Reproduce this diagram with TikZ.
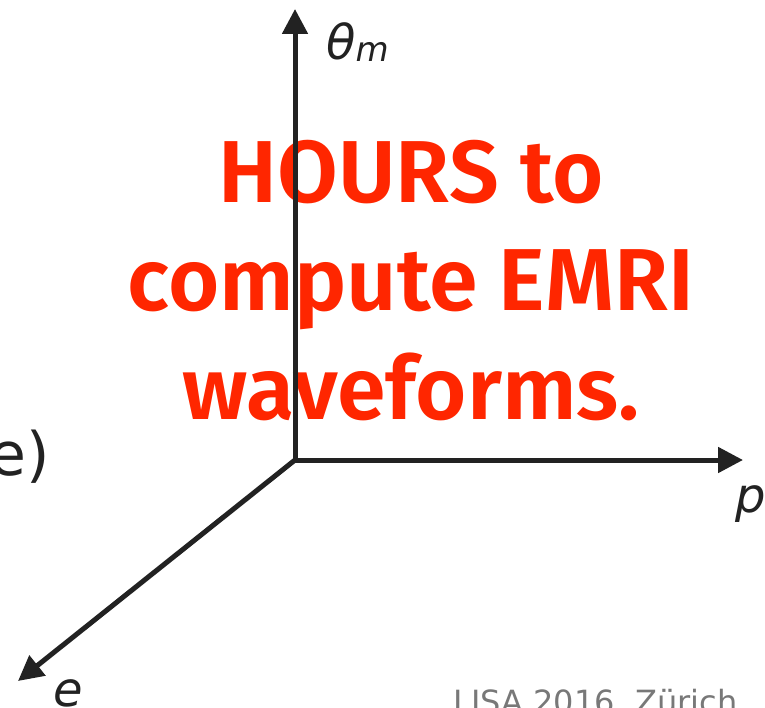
\documentclass[tikz,border=0pt]{standalone}
\usepackage{fontspec}
\usetikzlibrary{arrows.meta}
\newfontfamily\redfont{Fira Sans SemiBold}
\newfontfamily\labfont{DejaVu Sans}
\definecolor{emrired}{RGB}{255,38,0}
\definecolor{axisgray}{RGB}{34,34,34}
\definecolor{footgray}{RGB}{120,120,120}
\tikzset{
  axis/.style={draw=axisgray, line width=5pt, -{Triangle[length=25pt,width=25pt]}},
  redline/.style={inner sep=0pt, anchor=base, text=emrired, font=\redfont\fontsize{88}{88}\selectfont},
  axlabel/.style={inner sep=0pt, text=axisgray, font=\labfont\itshape\fontsize{48}{48}\selectfont},
}
\begin{document}
\begin{tikzpicture}[x=1pt,y=-1pt]
\useasboundingbox (0,0) rectangle (765,708);
% red text
\node[redline] (l1) at (411,203) {HOURS to};
\node[redline] (l2) at (411,311) {compute EMRI};
\node[redline] (l3) at (411,419) {waveforms.};
% axes
\coordinate (O) at (295,460);
\coordinate (T) at (295,9);
\coordinate (P) at (743,460);
\coordinate (E) at (18,681);
\draw[axis] (O) -- (T);
\draw[axis] (O) -- (P);
\draw[axis] (O) -- (E);
% labels
\node[axlabel, anchor=base west] (th) at (326,60) {θ\fontsize{34}{34}\selectfont\raisebox{-2pt}{m}};
\node[axlabel, anchor=base west] (pl) at (735,512) {p};
\node[axlabel, anchor=base west] (el) at (53,706) {e};
\node[inner sep=0pt, anchor=base east, text=axisgray, font=\labfont\fontsize{60}{60}\selectfont] (ep) at (50,475) {e)};
\node[inner sep=0pt, anchor=base west, text=footgray, font=\labfont\fontsize{32}{32}\selectfont] (foot) at (453,713) {LISA 2016, Zürich};
\end{tikzpicture}
\end{document}
